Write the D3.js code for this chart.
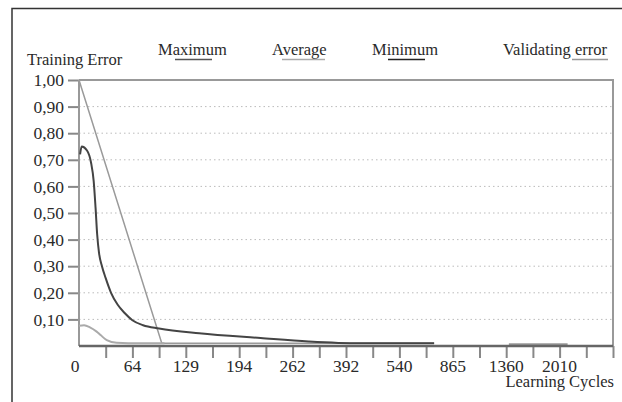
<!DOCTYPE html>
<html>
<head>
<meta charset="utf-8">
<script src="https://cdn.jsdelivr.net/npm/d3@7"></script>
<style>
  body { margin: 0; background: #fff; }
  text { font-family: "Liberation Serif", "Times New Roman", serif; fill: #2a2a2a; }
</style>
</head>
<body>
<div id="chart"></div>
<script>
// x values are tick positions (0..20), labels sit on every second tick
let cycleLabels = ['0', '64', '129', '194', '262', '392', '540', '865', '1360', '2010']
let yTicks = [0.1, 0.2, 0.3, 0.4, 0.5, 0.6, 0.7, 0.8, 0.9, 1.0]

let minimumCurve = [
  [0.04, 0.72], [0.1, 0.75], [0.3, 0.735], [0.45, 0.69], [0.55, 0.62],
  [0.62, 0.52], [0.68, 0.42], [0.75, 0.35], [0.86, 0.3], [1.0, 0.255],
  [1.2, 0.2], [1.45, 0.155], [1.7, 0.125], [2.0, 0.097], [2.4, 0.078],
  [3.0, 0.066], [4.5, 0.048], [6.8, 0.03], [8.6, 0.017], [10.5, 0.01],
  [13.3, 0.01]
]
let maximumLine = [[0, 1.0], [3.1, 0.01], [13.3, 0.01]]
let averageCurve = [
  [0, 0.076], [0.19, 0.078], [0.41, 0.07], [0.66, 0.054], [0.82, 0.04],
  [1.04, 0.022], [1.41, 0.012], [2.28, 0.01], [3.2, 0.01]
]
let validatingLine = [[16.1, 0.007], [18.3, 0.007]]

let legendItems = [
  { name: 'Maximum', x: 158, u0: 175, u1: 212, color: '#555' },
  { name: 'Average', x: 272, u0: 282, u1: 325, color: '#aaa' },
  { name: 'Minimum', x: 372, u0: 388, u1: 425, color: '#222' },
  { name: 'Validating error', x: 503, u0: 572, u1: 608, color: '#999' }
]

let width = 622
let height = 402
let plot = { left: 79, right: 613, top: 80, bottom: 346 }

let svg = d3.select('#chart')
  .append('svg')
  .attr('width', width)
  .attr('height', height)

let xScale = d3.scaleLinear().domain([0, 20]).range([plot.left, plot.right])
let yScale = d3.scaleLinear().domain([0, 1]).range([plot.bottom, plot.top])

// outer frame (top + left only)
svg.append('path')
  .attr('d', `M12,${height} L12,8.5 L${width},8.5`)
  .attr('fill', 'none')
  .attr('stroke', '#333')
  .attr('stroke-width', 1.5)

// dotted grid
svg.selectAll('.grid')
  .data(yTicks.filter(d => d < 1))
  .enter()
  .append('line')
  .attr('class', 'grid')
  .attr('x1', plot.left)
  .attr('x2', plot.right)
  .attr('y1', d => yScale(d))
  .attr('y2', d => yScale(d))
  .attr('stroke', '#bbb')
  .attr('stroke-dasharray', '1.5,3')

// box: top and right
svg.append('path')
  .attr('d', `M${plot.left},${yScale(1)} L${plot.right},${yScale(1)} L${plot.right},${plot.bottom}`)
  .attr('fill', 'none')
  .attr('stroke', '#999')
  .attr('stroke-width', 2)

// y axis
let yAxis = d3.axisLeft(yScale)
  .tickValues(yTicks)
  .tickSize(11)
  .tickPadding(4)
  .tickFormat(d => d3.format('.2f')(d).replace('.', ','))

let yG = svg.append('g')
  .attr('transform', `translate(${plot.left},0)`)
  .call(yAxis)
yG.select('.domain').remove()
yG.selectAll('.tick line').attr('stroke', '#888').attr('stroke-width', 2)
yG.selectAll('.tick text')
  .attr('font-size', 17.5)
  .attr('font-family', '"Liberation Serif", serif')
  .attr('fill', '#2a2a2a')

svg.append('line')
  .attr('x1', plot.left).attr('x2', plot.left)
  .attr('y1', plot.top).attr('y2', plot.bottom)
  .attr('stroke', '#999')
  .attr('stroke-width', 2)

// x axis
let xAxis = d3.axisBottom(xScale)
  .tickValues(d3.range(1, 21))
  .tickSize(12)
  .tickFormat('')

let xG = svg.append('g')
  .attr('transform', `translate(0,${plot.bottom})`)
  .call(xAxis)
xG.select('.domain').remove()
xG.selectAll('.tick line').attr('stroke', '#888').attr('stroke-width', 2)

svg.selectAll('.xlabel')
  .data(cycleLabels)
  .enter()
  .append('text')
  .attr('class', 'xlabel')
  .attr('x', (d, i) => xScale(i * 2) + (i === 0 ? -4 : 0))
  .attr('y', 372)
  .attr('text-anchor', 'middle')
  .attr('font-size', 17.5)
  .text(d => d)

// series
let line = d3.line()
  .x(d => xScale(d[0]))
  .y(d => yScale(d[1]))
  .curve(d3.curveMonotoneX)

svg.append('path')
  .datum(maximumLine)
  .attr('d', d3.line().x(d => xScale(d[0])).y(d => yScale(d[1])))
  .attr('fill', 'none')
  .attr('stroke', '#9a9a9a')
  .attr('stroke-width', 1.5)

svg.append('path')
  .datum(averageCurve)
  .attr('d', line)
  .attr('fill', 'none')
  .attr('stroke', '#aaa')
  .attr('stroke-width', 2)

svg.append('path')
  .datum(validatingLine)
  .attr('d', line)
  .attr('fill', 'none')
  .attr('stroke', '#999')
  .attr('stroke-width', 2)

svg.append('path')
  .datum(minimumCurve)
  .attr('d', line)
  .attr('fill', 'none')
  .attr('stroke', '#444')
  .attr('stroke-width', 2)

// x axis base line
svg.append('line')
  .attr('x1', plot.left).attr('x2', plot.right)
  .attr('y1', plot.bottom).attr('y2', plot.bottom)
  .attr('stroke', '#666')
  .attr('stroke-width', 2.5)

// titles
svg.append('text')
  .attr('x', 27)
  .attr('y', 65)
  .attr('font-size', 16.5)
  .text('Training Error')

svg.append('text')
  .attr('x', 614)
  .attr('y', 387)
  .attr('text-anchor', 'end')
  .attr('font-size', 16.5)
  .text('Learning Cycles')

// legend
let legend = svg.selectAll('.legend')
  .data(legendItems)
  .enter()
  .append('g')
  .attr('class', 'legend')

legend.append('text')
  .attr('x', d => d.x)
  .attr('y', 55)
  .attr('font-size', 16.5)
  .text(d => d.name)

legend.append('line')
  .attr('x1', d => d.u0)
  .attr('x2', d => d.u1)
  .attr('y1', 59.5)
  .attr('y2', 59.5)
  .attr('stroke', d => d.color)
  .attr('stroke-width', 1.5)
</script>
</body>
</html>
